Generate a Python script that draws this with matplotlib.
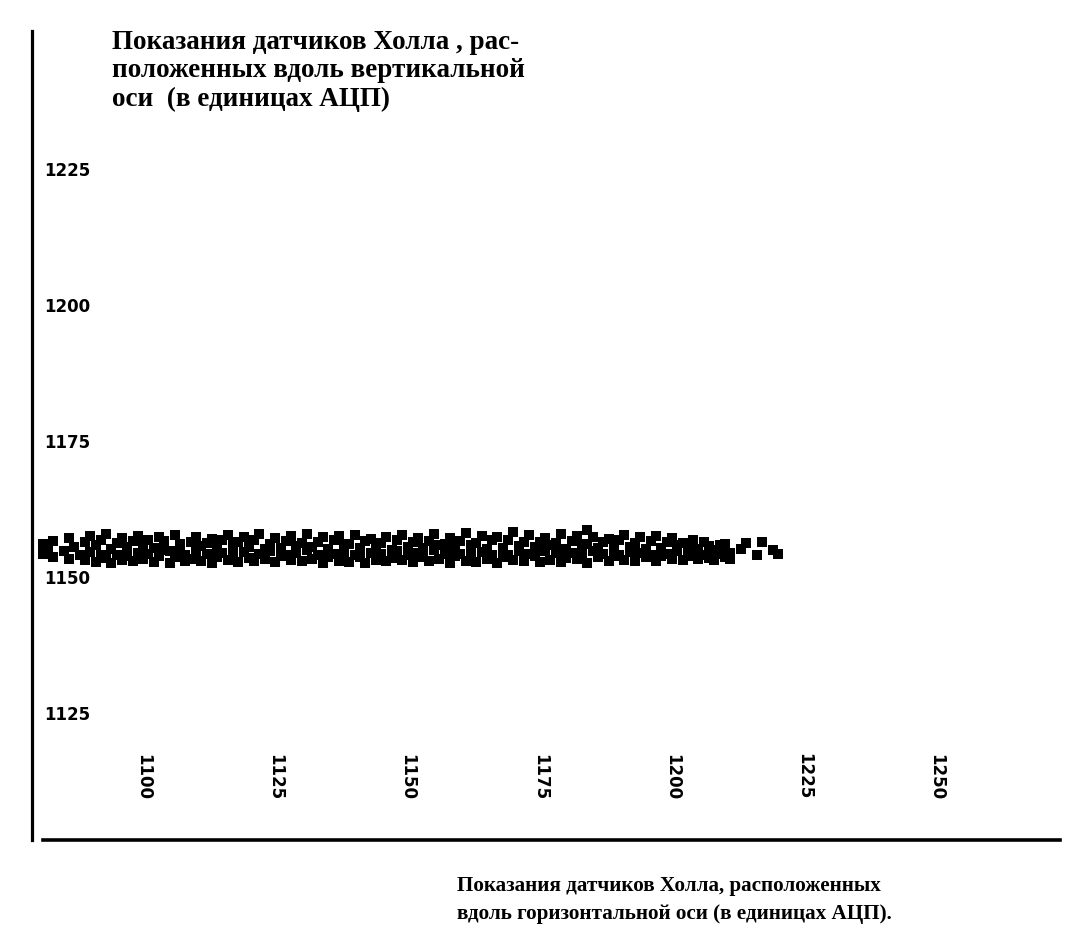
import matplotlib
matplotlib.use("Agg")
import matplotlib.pyplot as plt

# Hall sensor readings (ADC units): horizontal-axis sensor vs vertical-axis sensor
hall_x = [
    1081, 1081, 1082, 1083, 1083, 1085, 1086, 1086, 1087, 1088,
    1089, 1089, 1090, 1090, 1091, 1091, 1092, 1092, 1093, 1093,
    1094, 1094, 1095, 1095, 1096, 1096, 1097, 1097, 1098, 1098,
    1099, 1099, 1100, 1100, 1101, 1101, 1102, 1102, 1103, 1103,
    1104, 1104, 1105, 1105, 1106, 1106, 1107, 1107, 1108, 1108,
    1109, 1109, 1110, 1110, 1111, 1111, 1112, 1112, 1113, 1113,
    1114, 1114, 1115, 1115, 1116, 1116, 1117, 1117, 1118, 1118,
    1119, 1119, 1120, 1120, 1121, 1121, 1122, 1122, 1123, 1123,
    1124, 1124, 1125, 1125, 1126, 1126, 1127, 1127, 1128, 1128,
    1129, 1129, 1130, 1130, 1131, 1131, 1132, 1132, 1133, 1133,
    1134, 1134, 1135, 1135, 1136, 1136, 1137, 1137, 1138, 1138,
    1139, 1139, 1140, 1140, 1141, 1141, 1142, 1142, 1143, 1143,
    1144, 1144, 1145, 1145, 1146, 1146, 1147, 1147, 1148, 1148,
    1149, 1149, 1150, 1150, 1151, 1151, 1152, 1152, 1153, 1153,
    1154, 1154, 1155, 1155, 1156, 1156, 1157, 1157, 1158, 1158,
    1159, 1159, 1160, 1160, 1161, 1161, 1162, 1162, 1163, 1163,
    1164, 1164, 1165, 1165, 1166, 1166, 1167, 1167, 1168, 1168,
    1169, 1169, 1170, 1170, 1171, 1171, 1172, 1172, 1173, 1173,
    1174, 1174, 1175, 1175, 1176, 1176, 1177, 1177, 1178, 1178,
    1179, 1179, 1180, 1180, 1181, 1181, 1182, 1182, 1183, 1183,
    1184, 1184, 1185, 1185, 1186, 1186, 1187, 1187, 1188, 1188,
    1189, 1189, 1190, 1190, 1191, 1191, 1192, 1192, 1193, 1193,
    1194, 1194, 1195, 1195, 1196, 1196, 1197, 1197, 1198, 1198,
    1199, 1199, 1200, 1200, 1201, 1201, 1202, 1202, 1203, 1203,
    1204, 1204, 1205, 1205, 1206, 1206, 1207, 1207, 1208, 1208,
    1209, 1209, 1210, 1210, 1211, 1211, 1213, 1214, 1216, 1217,
    1219, 1220, 1184,
]
hall_y = [
    1154.2, 1156.0, 1155.1, 1153.6, 1156.6, 1154.8, 1157.2, 1153.4, 1155.6, 1154.0,
    1153.2, 1156.4, 1154.6, 1157.5, 1152.8, 1155.9, 1154.1, 1156.8, 1153.5, 1157.9,
    1155.2, 1152.6, 1154.0, 1156.3, 1153.1, 1157.2, 1155.6, 1153.9, 1152.9, 1156.7,
    1154.4, 1157.6, 1153.3, 1155.8, 1156.9, 1154.2, 1152.7, 1155.4, 1153.8, 1157.4,
    1155.0, 1156.6, 1152.5, 1154.7, 1153.6, 1157.8, 1155.3, 1156.1, 1154.0, 1152.9,
    1156.5, 1153.4, 1154.8, 1157.3, 1153.0, 1155.7, 1156.2, 1154.3, 1152.6, 1157.0,
    1155.1, 1153.7, 1154.5, 1156.9, 1153.2, 1157.7, 1155.9, 1154.1, 1152.8, 1156.4,
    1154.6, 1157.4, 1153.5, 1155.5, 1156.8, 1152.9, 1154.2, 1157.9, 1153.3, 1155.2,
    1156.0, 1154.7, 1152.7, 1157.1, 1155.4, 1153.8, 1154.0, 1156.7, 1153.1, 1157.6,
    1155.7, 1154.4, 1152.9, 1156.2, 1154.9, 1158.0, 1153.4, 1155.6, 1156.5, 1154.0,
    1152.6, 1157.3, 1155.2, 1153.6, 1154.3, 1156.8, 1153.0, 1157.5, 1155.8, 1154.6,
    1152.8, 1156.1, 1154.1, 1157.8, 1153.7, 1155.3, 1156.6, 1152.5, 1154.5, 1157.0,
    1153.2, 1155.9, 1156.3, 1154.2, 1152.9, 1157.4, 1155.0, 1153.5, 1154.7, 1156.9,
    1153.1, 1157.7, 1155.6, 1154.0, 1152.7, 1156.5, 1154.4, 1157.2, 1153.6, 1155.4,
    1156.7, 1153.0, 1154.9, 1157.9, 1153.3, 1155.8, 1156.1, 1154.3, 1152.6, 1157.1,
    1155.5, 1153.9, 1154.2, 1156.6, 1153.0, 1158.1, 1155.9, 1154.5, 1152.8, 1156.3,
    1154.6, 1157.6, 1153.4, 1155.1, 1156.8, 1154.1, 1152.5, 1157.3, 1155.3, 1153.7,
    1154.0, 1156.9, 1153.2, 1158.3, 1155.7, 1154.8, 1152.9, 1156.4, 1154.3, 1157.7,
    1153.8, 1155.5, 1156.5, 1152.7, 1154.7, 1157.2, 1153.1, 1155.9, 1156.2, 1154.4,
    1152.8, 1157.9, 1155.1, 1153.5, 1154.5, 1156.7, 1153.3, 1157.5, 1155.8, 1154.0,
    1152.6, 1156.0, 1154.8, 1157.4, 1153.6, 1155.3, 1156.4, 1154.2, 1153.0, 1157.0,
    1155.4, 1153.8, 1154.1, 1156.8, 1153.2, 1157.8, 1155.6, 1154.6, 1152.9, 1156.3,
    1154.4, 1157.3, 1153.7, 1155.2, 1156.6, 1154.0, 1153.0, 1157.6, 1155.3, 1153.9,
    1154.2, 1156.5, 1153.4, 1157.1, 1155.9, 1154.7, 1153.1, 1156.2, 1154.6, 1155.0,
    1153.8, 1156.9, 1155.2, 1153.3, 1154.0, 1156.4, 1153.5, 1155.7, 1154.9, 1153.2,
    1155.8, 1154.3, 1153.6, 1156.1, 1154.5, 1153.4, 1155.2, 1156.3, 1154.0, 1156.5,
    1155.0, 1154.2, 1158.6,
]

x_ticks = [1100, 1125, 1150, 1175, 1200, 1225, 1250]
y_ticks = [1125, 1150, 1175, 1200, 1225]

title_y = "Показания датчиков Холла , рас-\nположенных вдоль вертикальной\nоси  (в единицах АЦП)"
title_x = "Показания датчиков Холла, расположенных\nвдоль горизонтальной оси (в единицах АЦП)."

W, H = 1067, 951
fig = plt.figure(figsize=(W / 100, H / 100), dpi=100)
fig.patch.set_facecolor("white")

# axes box in pixel terms: left spine x=31.5, bottom spine y=840, top y=31, right x=1060
left_px, right_px, top_px, bottom_px = 31.5, 1060, 31, 840
ax = fig.add_axes([left_px / W, 1 - bottom_px / H,
                   (right_px - left_px) / W, (bottom_px - top_px) / H])

ax.set_xlim(1078.9, 1273.35)
ax.set_ylim(1101.65, 1250.4)

ax.scatter(hall_x, hall_y, s=44, marker="s", color="black", linewidths=0, zorder=3)

for side in ("top", "right"):
    ax.spines[side].set_visible(False)
ax.spines["left"].set_linewidth(2.3)
ax.spines["bottom"].set_linewidth(2.6)
ax.spines["bottom"].set_bounds(1081.1, 1273.35)

ax.set_yticks(y_ticks)
ax.set_yticklabels([str(v) for v in y_ticks])
ax.set_xticks(x_ticks)
ax.set_xticklabels([str(v) for v in x_ticks])

ax.tick_params(axis="y", length=0, pad=-9, labelsize=12)
ax.tick_params(axis="x", length=0, pad=-29, labelsize=12)
for lbl in ax.get_yticklabels():
    lbl.set_horizontalalignment("left")
    lbl.set_fontweight("bold")
for lbl in ax.get_xticklabels():
    lbl.set_rotation(270)
    lbl.set_verticalalignment("bottom")
    lbl.set_fontweight("bold")

fig.text(112 / W, 1 - 30 / H, title_y, ha="left", va="top",
         fontsize=19.5, fontweight="bold", family="Liberation Serif", linespacing=1.18)
fig.text(457 / W, 1 - 876 / H, title_x, ha="left", va="top",
         fontsize=15.2, fontweight="bold", family="Liberation Serif", linespacing=1.5)

fig.savefig("out.png", dpi=100, facecolor="white")
